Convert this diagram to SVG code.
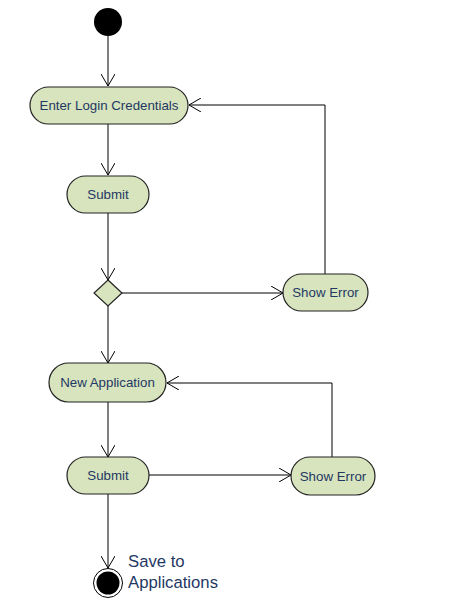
<svg xmlns="http://www.w3.org/2000/svg" width="451" height="602" viewBox="0 0 451 602">
<defs>
<marker id="arr" viewBox="0 0 12 14" refX="12" refY="7" markerWidth="12" markerHeight="14" markerUnits="userSpaceOnUse" orient="auto">
<path d="M0,0 L12,7 L0,14" fill="none" stroke="#000" stroke-width="1"/>
</marker>
<style>
.node{fill:#d7e4bd;stroke:#222;stroke-width:1.2}
.lbl{font-family:"Liberation Sans",Arial,sans-serif;font-size:13.3px;fill:#1f3864;text-anchor:middle}
.edge{fill:none;stroke:#000;stroke-width:1;marker-end:url(#arr)}
</style>
</defs>
<rect width="451" height="602" fill="#fff"/>
<g id="connectors">
<path class="edge" d="M108,36 L108,86"/>
<path class="edge" d="M108,124 L108,175"/>
<path class="edge" d="M108,213 L108,280"/>
<path class="edge" d="M122,293 L283,293"/>
<path class="edge" d="M325,274 L325,105 L189,105"/>
<path class="edge" d="M108,306 L108,363"/>
<path class="edge" d="M108,402 L108,457"/>
<path class="edge" d="M149,475 L291,475"/>
<path class="edge" d="M332,457 L332,383 L167,383"/>
<path class="edge" d="M108,494 L108,568"/>
</g>
<g id="start"><circle cx="108" cy="22" r="14" fill="#000"/></g>
<g id="enterLogin"><rect class="node" x="30" y="87" width="158" height="37" rx="18.5"/><text class="lbl" x="109" y="110">Enter Login Credentials</text></g>
<g id="submit1"><rect class="node" x="67" y="176" width="82" height="37" rx="18.5"/><text class="lbl" x="108" y="199">Submit</text></g>
<g id="decision"><polygon class="node" points="108,280 122,293 108,306 94,293"/></g>
<g id="showError1"><rect class="node" x="283" y="274" width="85" height="37" rx="18.5"/><text class="lbl" x="325.5" y="297">Show Error</text></g>
<g id="newApp"><rect class="node" x="49" y="363" width="117" height="39" rx="19.5"/><text class="lbl" x="107.5" y="387">New Application</text></g>
<g id="submit2"><rect class="node" x="67" y="457" width="82" height="37" rx="18.5"/><text class="lbl" x="108" y="480">Submit</text></g>
<g id="showError2"><rect class="node" x="291" y="457" width="84" height="38" rx="19"/><text class="lbl" x="333" y="481">Show Error</text></g>
<g id="end">
<circle cx="108" cy="583" r="14.5" fill="#fff" stroke="#000" stroke-width="1"/>
<circle cx="108" cy="583" r="11.5" fill="#000"/>
<text x="128" y="567" font-family="'Liberation Sans',Arial,sans-serif" font-size="16.7" fill="#1f3864">Save to</text>
<text x="128" y="588" font-family="'Liberation Sans',Arial,sans-serif" font-size="16.7" fill="#1f3864">Applications</text>
</g>
</svg>
